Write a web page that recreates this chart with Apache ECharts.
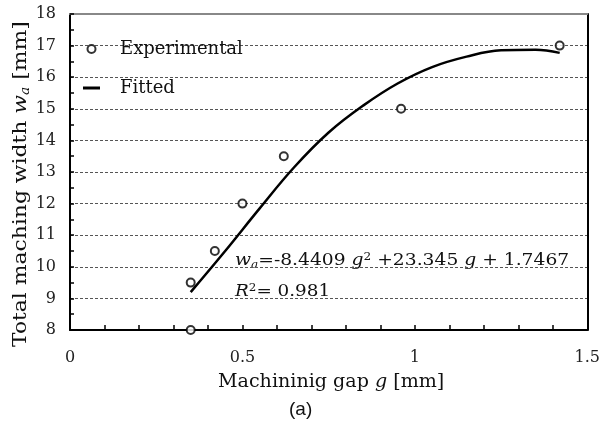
<!DOCTYPE html>
<html>
<head>
<meta charset="utf-8">
<script src="https://cdn.jsdelivr.net/npm/echarts@6/dist/echarts.min.js"></script>
<style>
  html, body { margin: 0; padding: 0; background: #fff; }
  #chart { width: 603px; height: 428px; }
</style>
</head>
<body>
<div id="chart"></div>
<script>
// Measured machining width against machining gap
const gapExp = [0.35, 0.35, 0.42, 0.50, 0.62, 0.96, 1.42];
const widthExp = [9.5, 8.0, 10.5, 12.0, 13.5, 15.0, 17.0];

// Fitted curve as drawn
const gapFit = [0.35, 0.45, 0.55, 0.65, 0.75, 0.85, 0.95, 1.05, 1.15, 1.25, 1.35, 1.42];
const widthFit = [9.2, 10.5, 11.85, 13.15, 14.25, 15.1, 15.8, 16.32, 16.65, 16.85, 16.87, 16.77];

const xTicks = [0, 0.5, 1, 1.5];
const yTicks = [8, 9, 10, 11, 12, 13, 14, 15, 16, 17, 18];

const SERIF = '"DejaVu Serif", "Liberation Serif", serif';
const INK = '#111';

const chart = echarts.init(document.getElementById('chart'), null, { renderer: 'canvas' });

const zip = (a, b) => a.map((v, i) => [v, b[i]]);

// rich-text styles shared by the titles and the equation
const richStyles = (size) => ({
  n: { fontFamily: SERIF, fontSize: size, fill: INK },
  i: { fontFamily: SERIF, fontSize: size, fontStyle: 'italic', fill: INK },
  s: { fontFamily: SERIF, fontSize: Math.round(size * 0.62), fontStyle: 'italic', fill: INK,
       verticalAlign: 'bottom', padding: [Math.round(size * 0.45), 0, 0, 0] },
  p: { fontFamily: SERIF, fontSize: Math.round(size * 0.62), fill: INK,
       verticalAlign: 'top', padding: [0, 0, Math.round(size * 0.45), 0] }
});

chart.setOption({
  animation: false,
  backgroundColor: '#fff',
  grid: { left: 70, right: 14, top: 14, bottom: 98, containLabel: false },
  legend: {
    orient: 'vertical',
    left: 78,
    top: 35,
    itemGap: 21,
    itemWidth: 17,
    itemHeight: 8,
    textStyle: { fontFamily: SERIF, fontSize: 18, color: INK, padding: [0, 0, 0, 15] },
    data: [
      { name: 'Experimental', icon: 'emptyCircle' },
      { name: 'Fitted', icon: 'path://M0,0L17,0L17,3L0,3Z' }
    ]
  },
  xAxis: [
    {
      type: 'value', min: xTicks[0], max: xTicks[xTicks.length - 1], interval: 0.5,
      axisLine: { show: true, lineStyle: { color: '#000', width: 2 } },
      axisTick: { show: true, inside: true, length: 5, lineStyle: { color: '#000', width: 1.5 } },
      minorTick: { show: true, splitNumber: 5, length: 5, lineStyle: { color: '#000', width: 1.5 } },
      axisLabel: { margin: 20, fontFamily: SERIF, fontSize: 16, color: '#222',
        formatter: v => String(v) },
      splitLine: { show: false }
    },
    {
      type: 'value', position: 'top', min: 0, max: 1.5,
      axisLine: { show: true, onZero: false, lineStyle: { color: '#888', width: 2 } },
      axisTick: { show: false }, axisLabel: { show: false }, splitLine: { show: false }
    }
  ],
  yAxis: [
    {
      type: 'value', min: yTicks[0], max: yTicks[yTicks.length - 1], interval: 1,
      axisLine: { show: true, lineStyle: { color: '#000', width: 2 } },
      axisTick: { show: true, inside: true, length: 4, lineStyle: { color: '#000', width: 1.5 } },
      minorTick: { show: true, splitNumber: 2, length: 4, lineStyle: { color: '#000', width: 1.5 } },
      axisLabel: { margin: 14, fontFamily: SERIF, fontSize: 16, color: '#222' },
      splitLine: { show: true, lineStyle: { color: '#555', type: [3, 2], width: 1 } }
    },
    {
      type: 'value', position: 'right', min: 8, max: 18,
      axisLine: { show: true, onZero: false, lineStyle: { color: '#000', width: 2 } },
      axisTick: { show: false }, axisLabel: { show: false }, splitLine: { show: false }
    }
  ],
  series: [
    {
      name: 'Fitted', type: 'line', smooth: 0.4, showSymbol: false,
      data: zip(gapFit, widthFit),
      lineStyle: { color: '#000', width: 2.5 },
      itemStyle: { color: '#000' }, z: 3
    },
    {
      name: 'Experimental', type: 'scatter', symbol: 'emptyCircle', symbolSize: 8,
      data: zip(gapExp, widthExp),
      itemStyle: { color: '#000', borderWidth: 2.2 }, z: 4
    }
  ],
  graphic: [
    {
      // y-axis title, reading bottom to top
      type: 'text', x: 21, y: 347, rotation: Math.PI / 2, scaleX: 1.15,
      style: {
        text: '{n|Total maching width }{i|w}{s|a}{n| [mm]}',
        align: 'left', verticalAlign: 'middle',
        rich: richStyles(19)
      }
    },
    {
      type: 'text', x: 218, y: 382, scaleX: 1.06,
      style: {
        text: '{n|Machininig gap }{i|g}{n| [mm]}',
        align: 'left', verticalAlign: 'middle',
        rich: richStyles(18)
      }
    },
    {
      type: 'text', x: 289, y: 410,
      style: { text: '(a)', fontFamily: '"Liberation Sans", Arial, sans-serif', fontSize: 19,
        fill: INK, align: 'left', verticalAlign: 'middle' }
    },
    {
      type: 'text', x: 235, y: 261, scaleX: 1.1,
      style: {
        text: '{i|w}{s|a}{n|=-8.4409 }{i|g}{p|2}{n| +23.345 }{i|g}{n| + 1.7467}',
        align: 'left', verticalAlign: 'middle',
        rich: richStyles(17)
      }
    },
    {
      type: 'text', x: 235, y: 292, scaleX: 1.08,
      style: {
        text: '{i|R}{p|2}{n|= 0.981}',
        align: 'left', verticalAlign: 'middle',
        rich: richStyles(17)
      }
    }
  ]
});
</script>
</body>
</html>
